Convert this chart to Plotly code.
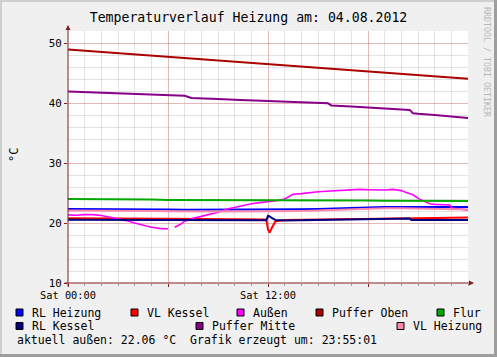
import plotly.graph_objects as go

# ---------------- data ----------------
hours = list(range(25))
tick_vals_x = [0, 6, 12, 18]
tick_text_x = ["Sat 00:00", "", "Sat 12:00", ""]
tick_vals_y = [10, 20, 30, 40, 50]

puffer_oben = [48.9, 48.7, 48.5, 48.3, 48.1, 47.9, 47.7, 47.5, 47.3, 47.1, 46.9, 46.7,
               46.5, 46.3, 46.1, 45.9, 45.7, 45.5, 45.3, 45.1, 44.9, 44.7, 44.5, 44.3, 44.05]
flur = [24.0, 24.0, 23.95, 23.95, 23.9, 23.9, 23.85, 23.85, 23.85, 23.8, 23.8, 23.8, 23.8,
        23.8, 23.8, 23.8, 23.75, 23.75, 23.75, 23.7, 23.7, 23.7, 23.65, 23.65, 23.65]
rl_heizung = [22.35, 22.35, 22.35, 22.35, 22.3, 22.3, 22.25, 22.2, 22.2, 22.2, 22.2, 22.2, 22.2,
              22.25, 22.3, 22.35, 22.45, 22.55, 22.6, 22.65, 22.65, 22.65, 22.65, 22.65, 22.65]
vl_heizung = [22.1, 22.1, 22.05, 22.05, 22.0, 22.0, 21.95, 21.9, 21.9, 21.9, 21.9, 21.9, 21.9,
              21.95, 22.0, 22.1, 22.2, 22.3, 22.4, 22.45, 22.45, 22.4, 22.35, 22.3, 22.25]

mitte_hours = [0, 1, 2, 3, 4, 5, 6, 7, 7.4, 8, 9, 10, 11, 12, 13, 14, 15, 15.6, 15.8, 16, 17,
               18, 19, 20, 20.5, 20.7, 21, 22, 23, 24]
puffer_mitte = [41.9, 41.8, 41.7, 41.55, 41.45, 41.35, 41.3, 41.2, 40.85, 40.75, 40.65, 40.55,
                40.45, 40.3, 40.2, 40.1, 40.0, 39.95, 39.6, 39.55, 39.4, 39.25, 39.1, 38.95,
                38.85, 38.3, 38.2, 38.0, 37.75, 37.5]

kessel_hours = [0, 2, 4, 6, 8, 10, 11.9, 12.0, 12.1, 12.25, 12.45, 13, 14, 16, 18, 20, 20.5,
                20.6, 22, 24]
vl_kessel = [20.8, 20.8, 20.75, 20.7, 20.65, 20.6, 20.6, 18.9, 18.4, 19.3, 20.3, 20.5, 20.55,
             20.65, 20.75, 20.85, 20.85, 20.8, 20.85, 20.9]
rl_kessel = [20.55, 20.55, 20.5, 20.5, 20.45, 20.45, 20.45, 21.2, 21.1, 20.8, 20.5, 20.4, 20.45,
             20.55, 20.65, 20.75, 20.75, 20.5, 20.5, 20.5]

aussen_hours = [0, 0.5, 1, 1.5, 2, 2.5, 3, 3.5, 4, 4.5, 5, 5.5, 6, 6.2, 6.4, 6.7, 7, 7.5, 8, 8.5,
                9, 9.5, 10, 10.5, 11, 11.5, 12, 12.5, 13, 13.3, 13.5, 14, 14.5, 15, 15.5, 16,
                16.5, 17, 17.5, 18, 18.5, 19, 19.5, 20, 20.3, 20.7, 21, 21.3, 21.7, 22, 22.5,
                22.9, 23, 23.5, 24]
aussen = [21.35, 21.3, 21.4, 21.4, 21.25, 21.0, 20.7, 20.4, 20.0, 19.6, 19.3, 19.1, 19.0, None,
          19.3, 19.7, 20.3, 20.8, 21.1, 21.4, 21.8, 22.3, 22.6, 23.0, 23.2, 23.4, 23.55, 23.7,
          24.0, 24.5, 24.8, 24.9, 25.1, 25.2, 25.3, 25.4, 25.45, 25.5, 25.6, 25.55, 25.5, 25.5,
          25.6, 25.4, 25.1, 24.7, 24.1, 23.7, 23.2, 23.1, 23.0, 23.0, 22.5, 22.3, 22.15]

series = [
    ("RL Heizung", hours, rl_heizung, "#0000FF"),
    ("VL Kessel", kessel_hours, vl_kessel, "#FF0000"),
    ("Außen", aussen_hours, aussen, "#FF00FF"),
    ("Puffer Oben", hours, puffer_oben, "#AA0000"),
    ("Flur", hours, flur, "#00AA00"),
    ("RL Kessel", kessel_hours, rl_kessel, "#000080"),
    ("Puffer Mitte", mitte_hours, puffer_mitte, "#880088"),
    ("VL Heizung", hours, vl_heizung, "#FF88AA"),
]

title_text = "Temperaturverlauf Heizung am: 04.08.2012"
footer_text = "aktuell außen: 22.06 °C \u00a0Grafik erzeugt um: 23:55:01"
watermark = "RRDTOOL / TOBI OETIKER"

# ---------------- layout helpers ----------------
W, H = 497, 357
L, R, T, B = 68, 468, 31, 283
MONO = "DejaVu Sans Mono"


def px(xp):
    return (xp - L) / (R - L)


def py(yp):
    return (B - yp) / (B - T)


fig = go.Figure()
for name, xs, ys, col in series:
    fig.add_trace(go.Scatter(x=xs, y=ys, mode="lines", name=name,
                             line=dict(color=col, width=2 if name != "Außen" else 1.6),
                             connectgaps=False, showlegend=False))

shapes = []
annotations = []

# frame (3D border like rrdtool)
shapes.append(dict(type="rect", xref="paper", yref="paper", x0=px(0), x1=px(W), y0=py(0), y1=py(2),
                   fillcolor="#CFCFCF", line=dict(width=0), layer="below"))
shapes.append(dict(type="rect", xref="paper", yref="paper", x0=px(0), x1=px(2), y0=py(0), y1=py(H),
                   fillcolor="#CFCFCF", line=dict(width=0), layer="below"))
shapes.append(dict(type="rect", xref="paper", yref="paper", x0=px(W - 3), x1=px(W), y0=py(0), y1=py(H),
                   fillcolor="#9E9E9E", line=dict(width=0), layer="below"))
shapes.append(dict(type="rect", xref="paper", yref="paper", x0=px(0), x1=px(W), y0=py(H - 3), y1=py(H),
                   fillcolor="#9E9E9E", line=dict(width=0), layer="below"))

# legend (rrdtool style)
legend_pos = [
    ("RL Heizung", 16, 0), ("VL Kessel", 131, 0), ("Außen", 237, 0),
    ("Puffer Oben", 316, 0), ("Flur", 437, 0),
    ("RL Kessel", 16, 1), ("Puffer Mitte", 196, 1), ("VL Heizung", 397, 1),
]
colors = {s[0]: s[3] for s in series}
for name, x0, row in legend_pos:
    top = 309 + row * 13.5
    shapes.append(dict(type="rect", xref="paper", yref="paper",
                       x0=px(x0), x1=px(x0 + 7), y0=py(top + 7), y1=py(top),
                       fillcolor=colors[name], line=dict(color="black", width=1)))
    annotations.append(dict(xref="paper", yref="paper", x=px(x0 + 13.5), y=py(top + 3.5),
                            text=name, showarrow=False, xanchor="left", yanchor="middle",
                            font=dict(family=MONO, size=11.5, color="black")))

annotations.append(dict(xref="paper", yref="paper", x=px(15), y=py(339.5), text=footer_text,
                        showarrow=False, xanchor="left", yanchor="middle",
                        font=dict(family=MONO, size=11.5, color="black")))

# y axis label
annotations.append(dict(xref="paper", yref="paper", x=px(14), y=py(155), text="°C",
                        showarrow=False, textangle=-90, xanchor="center", yanchor="middle",
                        font=dict(family=MONO, size=12, color="black")))

# watermark
annotations.append(dict(xref="paper", yref="paper", x=px(487), y=py(62), text=watermark,
                        showarrow=False, textangle=90, xanchor="center", yanchor="middle",
                        font=dict(family=MONO, size=8.3, color="#B8B8B8")))

# axis arrows
annotations.append(dict(xref="paper", yref="paper", x=px(474), y=0, ax=-(474 - 63), ay=0,
                        axref="pixel", ayref="pixel", text="", showarrow=True, arrowhead=2,
                        arrowsize=1, arrowwidth=1, arrowcolor="#802020"))
annotations.append(dict(xref="paper", yref="paper", x=0, y=py(25), ax=0, ay=288 - 25,
                        axref="pixel", ayref="pixel", text="", showarrow=True, arrowhead=2,
                        arrowsize=1, arrowwidth=1, arrowcolor="#802020"))

fig.update_layout(
    width=W, height=H,
    margin=dict(l=L, r=W - R, t=T, b=H - B, pad=0),
    paper_bgcolor="#F0F0F0", plot_bgcolor="#FFFFFF",
    title=dict(text=title_text, x=0.5, xref="container", xanchor="center",
               y=1 - 17 / H, yref="container", yanchor="middle",
               font=dict(family=MONO, size=13.2, color="black")),
    shapes=shapes, annotations=annotations,
    showlegend=False,
    xaxis=dict(range=[0, 24], tickmode="array", tickvals=tick_vals_x, ticktext=tick_text_x,
               showgrid=True, gridcolor="rgba(222,79,79,0.28)", gridwidth=1,
               ticks="outside", ticklen=3, tickcolor="#802020",
               tickfont=dict(family=MONO, size=10.3, color="black"),
               minor=dict(dtick=1, tick0=0, showgrid=True, gridcolor="rgba(143,143,143,0.25)",
                          ticks="outside", ticklen=2, tickcolor="#999999"),
               showline=False, zeroline=False, fixedrange=True),
    yaxis=dict(range=[10, 52], tickmode="array", tickvals=tick_vals_y,
               showgrid=True, gridcolor="rgba(222,79,79,0.28)", gridwidth=1,
               ticks="outside", ticklen=3, tickcolor="#802020",
               tickfont=dict(family=MONO, size=10.8, color="black"),
               minor=dict(dtick=2, tick0=10, showgrid=True, gridcolor="rgba(143,143,143,0.25)",
                          ticks=""),
               showline=False, zeroline=False, fixedrange=True),
)

fig.write_html("out.html", config={"displayModeBar": False})
